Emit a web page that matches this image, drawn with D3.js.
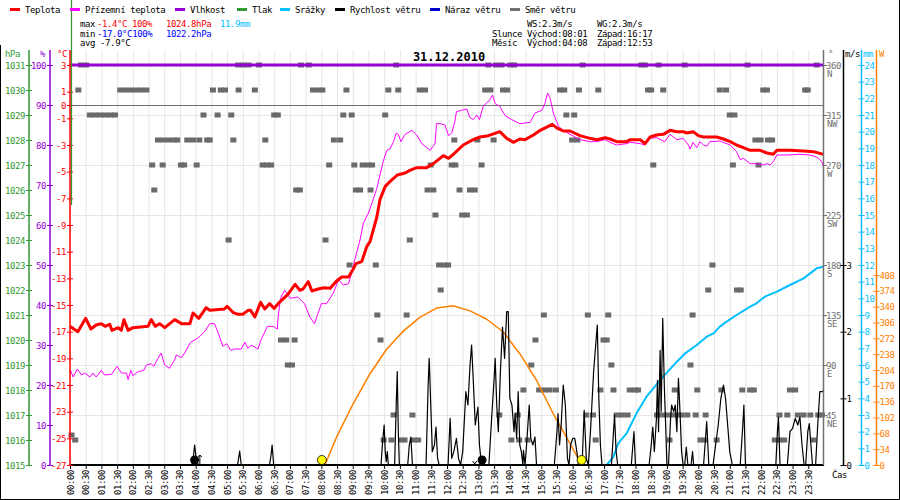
<!DOCTYPE html>
<html>
<head>
<meta charset="utf-8">
<script src="https://cdn.jsdelivr.net/npm/d3@7"></script>
<style>
body { margin: 0; background: #fff; }
text { font-family: "DejaVu Sans Mono", monospace; font-size: 9px; letter-spacing: -0.4px; }
</style>
</head>
<body>
<svg id="chart" width="900" height="500"></svg>
<script>
// ---- data (time in minutes from midnight) ----
const tempData = [[0,-16.6],[15,-17.0],[30,-16.0],[40,-16.8],[50,-16.5],[60,-16.4],[67,-16.6],[76,-16.45],[80,-16.9],[92,-16.7],[98,-16.9],[103,-16.1],[111,-16.9],[120,-16.7],[149,-16.6],[155,-16.1],[163,-16.6],[171,-16.4],[181,-16.7],[200,-16.1],[213,-16.4],[229,-16.4],[235,-15.6],[246,-16.0],[260,-15.2],[267,-15.4],[295,-15.3],[300,-15.1],[311,-15.55],[321,-15.7],[330,-15.7],[340,-15.4],[345,-15.4],[353,-15.9],[364,-14.8],[372,-15.3],[381,-14.9],[390,-15.25],[400,-14.8],[416,-14.2],[430,-13.45],[439,-13.9],[445,-13.8],[455,-13.25],[462,-13.95],[474,-13.8],[485,-13.7],[497,-13.75],[509,-13.2],[519,-12.9],[532,-12.9],[541,-12.3],[546,-11.9],[557,-11.75],[567,-10.6],[573,-10.25],[579,-9.4],[586,-8.4],[592,-7.1],[602,-6.1],[611,-5.75],[625,-5.25],[640,-5.1],[649,-4.9],[662,-4.7],[681,-4.7],[694,-4.4],[713,-3.8],[723,-4.0],[732,-3.7],[751,-3.0],[770,-2.6],[783,-2.4],[799,-2.3],[821,-2.0],[834,-2.5],[847,-2.8],[859,-2.55],[869,-2.6],[885,-2.25],[898,-1.9],[921,-1.45],[931,-1.75],[942,-1.95],[955,-1.95],[974,-2.3],[993,-2.5],[1006,-2.6],[1022,-2.45],[1031,-2.55],[1044,-2.75],[1063,-2.75],[1070,-2.6],[1089,-2.6],[1098,-2.9],[1108,-2.4],[1120,-2.25],[1133,-2.2],[1146,-1.9],[1159,-2.0],[1171,-2.0],[1178,-2.1],[1190,-2.0],[1200,-2.3],[1210,-2.4],[1235,-2.4],[1248,-2.55],[1261,-2.75],[1273,-3.0],[1286,-3.2],[1299,-3.4],[1318,-3.4],[1331,-3.6],[1343,-3.7],[1350,-3.4],[1375,-3.4],[1401,-3.45],[1420,-3.5],[1439,-3.7]];

const feelData = [[0,-20.1],[1,-19.9],[6,-20.4],[14,-19.8],[22,-20.25],[28,-20.1],[38,-20.4],[44,-20.1],[50,-20.4],[60,-19.9],[66,-20.25],[79,-20.2],[90,-19.6],[98,-20.1],[108,-20.1],[111,-20.6],[116,-19.9],[120,-20.3],[130,-20.0],[141,-19.9],[146,-19.5],[155,-19.4],[160,-19.6],[168,-19.0],[174,-18.6],[181,-19.5],[190,-19.75],[200,-19.1],[203,-18.75],[213,-18.95],[219,-18.6],[230,-17.8],[244,-17.5],[257,-17.0],[267,-16.4],[276,-16.4],[283,-17.1],[292,-18.1],[299,-17.9],[307,-18.4],[314,-18.3],[327,-18.3],[334,-17.8],[340,-18.25],[346,-18.0],[359,-18.3],[365,-17.6],[377,-16.6],[388,-16.6],[396,-16.8],[397,-16.1],[402,-14.5],[410,-13.9],[421,-14.5],[435,-14.4],[448,-14.9],[458,-15.9],[467,-16.4],[480,-14.9],[490,-14.9],[503,-14.1],[513,-13.1],[522,-13.5],[532,-13.4],[538,-12.6],[544,-11.6],[554,-10.1],[560,-8.9],[570,-8.1],[579,-7.1],[586,-6.25],[592,-5.25],[598,-4.25],[605,-3.4],[611,-3.3],[618,-2.75],[623,-2.1],[627,-2.2],[632,-2.75],[640,-2.2],[653,-1.9],[662,-2.25],[672,-2.9],[688,-3.4],[697,-2.9],[700,-1.4],[707,-1.4],[716,-1.5],[723,-2.3],[729,-2.1],[735,-1.25],[738,-0.5],[748,-0.4],[758,-0.3],[763,-0.9],[770,-1.1],[777,-0.75],[782,-1.1],[789,-0.1],[802,0.4],[807,0.75],[812,0.1],[821,-0.1],[831,-0.8],[844,-1.1],[859,-1.4],[879,-1.3],[888,-0.6],[901,-0.4],[907,0.1],[912,0.9],[917,0.5],[923,-0.6],[933,-1.6],[942,-1.9],[955,-2.2],[974,-2.6],[993,-2.75],[1006,-2.75],[1022,-2.6],[1031,-2.8],[1044,-3.0],[1063,-2.9],[1070,-2.8],[1089,-2.9],[1098,-3.0],[1108,-2.5],[1120,-2.45],[1136,-2.75],[1146,-2.2],[1159,-2.6],[1171,-2.5],[1181,-3.0],[1184,-3.3],[1190,-2.8],[1197,-3.2],[1203,-2.75],[1210,-3.0],[1216,-3.1],[1222,-2.75],[1241,-2.7],[1261,-3.0],[1273,-3.5],[1280,-4.1],[1286,-4.0],[1299,-4.4],[1311,-4.4],[1324,-4.5],[1331,-4.4],[1337,-4.5],[1343,-4.25],[1350,-3.75],[1369,-3.75],[1394,-3.7],[1413,-3.75],[1426,-3.9],[1436,-4.25],[1439,-4.7]];

const humData = [[0,100],[1440,100]];

const rainData = [[0,0],[1025,0],[1038,0.5],[1047,1.3],[1063,1.9],[1082,3.1],[1101,4.1],[1114,4.6],[1133,5.3],[1159,6.2],[1175,6.7],[1197,7.2],[1216,7.7],[1229,7.9],[1241,8.3],[1254,8.6],[1273,9.0],[1299,9.5],[1311,9.7],[1327,10.1],[1350,10.4],[1375,10.8],[1401,11.2],[1426,11.8],[1439,11.9]];

const solarData = [[481,0],[487,0],[509,60],[541,132],[573,196],[605,249],[637,288],[668,317],[700,337],[732,342],[764,331],[796,313],[828,285],[859,239],[891,182],[923,110],[955,46],[974,7],[977,0],[1440,0]];

const windData = [[0,0],[233,0],[236,0.15],[238,0.3],[241,0.1],[245,0],[320,0],[322,0.1],[324,0.21],[327,0],[381,0],[384,0.15],[386,0.3],[389,0],
  [594,0],[597,0.35],[600,0.6],[602,0.2],[604,0.05],[606,0.2],[608,0],[620,0],[623,0.9],[625,1.4],[627,0.5],[629,0],[645,0],[648,0.3],[651,0.42],[654,0],
  [680,0],[684,1.2],[686,1.6],[689,0.9],[692,0.2],[696,0.3],[699,0.57],[702,0.1],[705,0],[722,0],[726,0.7],[729,0.1],[733,0.2],[738,0.4],[742,0.1],[746,0],
  [750,0.2],[754,0.8],[756,1.1],[760,0.9],[764,1.5],[767,1.8],[770,1.3],[774,0.6],[779,0.87],[782,0.3],[786,0],
  [800,0],[806,0.8],[810,1.3],[812,1.6],[815,0.9],[818,0.5],[822,1.4],[826,2.07],[830,1.6],[834,2.3],[837,2.3],[840,1.0],[844,0.9],[848,0.5],[850,0.77],[853,0.4],[856,1.1],[859,0.3],[862,0.2],[865,0],[866,0.22],[869,0],[872,0.3],[877,0.9],[880,0.4],[884,0.3],[888,0.42],[891,0],
  [925,0],[930,0.5],[932,0.77],[935,0.3],[938,0.6],[942,1.2],[946,0.9],[950,0.1],[953,0],[956,0.3],[960,0.4],[964,0.4],[968,0.2],[971,0],
  [978,0],[982,0.82],[986,0.1],[990,0],[994,0.5],[1000,1.4],[1004,1.8],[1007,2.1],[1010,1.0],[1013,0.3],[1016,0],[1034,0],[1038,0.5],[1040,0.75],[1043,0.2],[1046,0],[1072,0],[1077,0.5],[1080,0],
  [1106,0],[1110,0.3],[1113,0.57],[1116,0.2],[1120,0.7],[1122,1.27],[1124,0.5],[1127,1.72],[1129,0.8],[1132,2.2],[1135,1.2],[1138,0.5],[1140,0],
  [1143,0],[1147,0.7],[1149,0.9],[1153,0.8],[1156,0.9],[1159,0.5],[1162,1.3],[1165,0.8],[1168,0.2],[1171,0],[1174,0],[1177,0.27],[1180,0],[1186,0],[1189,0.2],[1191,0],
  [1210,0],[1216,0.65],[1220,0],[1228,0],[1233,0.3],[1238,0.6],[1243,1.0],[1248,1.2],[1252,1.0],[1256,0.6],[1260,0.2],[1265,0],[1280,0],[1285,0.6],[1287,0.9],[1290,0],
  [1348,0],[1351,0.5],[1353,0.72],[1356,0],[1370,0],[1375,0.5],[1380,0.55],[1385,0.7],[1390,0.6],[1394,0.72],[1398,0.3],[1402,0],[1405,0],[1409,0.5],[1412,0.62],[1415,0.3],[1418,0],
  [1424,0],[1428,0.6],[1432,1.1],[1436,1.1],[1440,1.12]];

// wind direction samples: [degrees, [minutes...]]
const windDirRows = [
  [360, [20,30,320,330,340,360,440,455,622,798,813,823,840,847,978,1090,1097,1123,1173,1293,1425]],
  [337.5, [15,95,105,115,125,135,145,272,287,295,321,352,463,473,481,527,607,626,667,677,792,802,826,834,935,943,971,1008,1103,1109,1132,1240,1252,1323,1330,1403,1408]],
  [315, [37,47,57,67,77,85,254,281,307,389,396,521,537,601,947,962,1259,1268]],
  [292.5, [167,177,187,197,204,223,234,246,261,266,311,372,503,515,733,777,808,958,968,1308,1318,1332,1340]],
  [270, [156,176,211,217,241,367,375,383,494,542,558,568,576,688,728,735,785,1113,1265,1314]],
  [247.5, [160,431,438,545,553,573,682,693,743,763,772]],
  [225, [697,748,757]],
  [202.5, [302,487,648]],
  [180, [533,583,704,714,721,1226]],
  [157.5, [707,1218,1273,1280]],
  [135, [586,642,904,988,1027,1188]],
  [112.5, [402,412,428,592,888,1018,1024]],
  [90, [415,423,880,1033,1184]],
  [67.5, [865,895,905,915,927,1012,1037,1068,1078,1084,1154,1197,1243,1283,1298,1305,1374,1384]],
  [45, [617,653,819,854,985,998,1043,1053,1064,1120,1130,1140,1150,1160,1167,1178,1194,1213,1354,1369,1389,1400,1413,1428,1435]],
  [27, [2]],
  [22.5, [9,598,613,632,638,656,664,842,857,873,1003,1144,1203,1210,1234,1345,1355,1363,1419]]
];

const sunMarks = [481, 977];
const moonMarks = [238, 787];
const moonRise = 248, moonSet = 773;

const legendItems = [["Teplota","#ff0000",10],["Přízemní teplota","#ff00ff",70],["Vlhkost","#9400d3",175],["Tlak","#339933",237],
  ["Srážky","#00bfff",280],["Rychlost větru","#000000",335],["Náraz větru","#0000cd",430],["Směr větru","#707070",510]];

const hpaTicks = [1015,1016,1017,1018,1019,1020,1021,1022,1023,1024,1025,1026,1027,1028,1029,1030,1031];
const humTicks = [0,10,20,30,40,50,60,70,80,90,100];
const tempTicks = [3,1,0,-1,-3,-5,-7,-9,-11,-13,-15,-17,-19,-21,-23,-25,-27];
const dirTicks = [[360,"N"],[315,"NW"],[270,"W"],[225,"SW"],[180,"S"],[135,"SE"],[90,"E"],[45,"NE"]];
const wsTicks = [0,1,2,3];
const mmTicks = [0,1,2,3,4,5,6,7,8,9,10,11,12,13,14,15,16,17,18,19,20,21,22,23,24];
const wTicks = [0,34,68,102,136,170,204,238,272,306,340,374,408];
const timeTicks = d3.range(0, 1440, 30);

// ---- scales ----
const plotTop = 65, plotBottom = 465, plotLeft = 70, plotRight = 824;
const x = d3.scaleLinear().domain([0, 1440]).range([plotLeft, plotRight]);
const yT = d3.scaleLinear().domain([-27, 3]).range([plotBottom, plotTop]);
const yH = d3.scaleLinear().domain([0, 100]).range([plotBottom, plotTop]);
const yP = d3.scaleLinear().domain([1015, 1031]).range([plotBottom, plotTop]);
const yD = d3.scaleLinear().domain([0, 360]).range([plotBottom, plotTop]);
const yWS = d3.scaleLinear().domain([0, 3]).range([plotBottom, 265]);
const yMM = d3.scaleLinear().domain([0, 24]).range([plotBottom, plotTop]);
const yW = d3.scaleLinear().domain([0, 408]).range([plotBottom, 275]);

const svg = d3.select("#chart");
const fmt = m => d3.format("02")(Math.floor(m / 60)) + ":" + d3.format("02")(m % 60);

// grid
svg.append("g").selectAll("line").data(timeTicks).join("line")
  .attr("x1", d => x(d) + 0.5).attr("x2", d => x(d) + 0.5).attr("y1", 50).attr("y2", plotBottom)
  .attr("stroke", "#e6e6e6");
svg.append("g").selectAll("line").data(dirTicks.slice(1)).join("line")
  .attr("x1", plotLeft).attr("x2", plotRight).attr("y1", d => yD(d[0]) + 0.5).attr("y2", d => yD(d[0]) + 0.5)
  .attr("stroke", "#e6e6e6");
svg.append("line").attr("x1", plotLeft).attr("x2", plotRight).attr("y1", yT(0) + 0.5).attr("y2", yT(0) + 0.5)
  .attr("stroke", "#707070");

// wind direction squares
const dirPts = windDirRows.flatMap(([d, ts]) => ts.map(t => [t, d]));
svg.append("g").selectAll("rect").data(dirPts).join("rect")
  .attr("x", d => x(d[0]) - 2.5).attr("y", d => yD(d[1]) - 2.5).attr("width", 6).attr("height", 5)
  .attr("fill", "#6a6a6a");

function series(data, yScale, color, width) {
  const line = d3.line().x(d => x(d[0])).y(d => yScale(d[1]));
  svg.append("path").datum(data).attr("d", line).attr("fill", "none")
    .attr("stroke", color).attr("stroke-width", width).attr("stroke-linejoin", "round");
}

series(humData, yH, "#9400d3", 3);
series(solarData, yW, "#ff8000", 1.5);
series(rainData, yMM, "#00bfff", 2);
series(windData, yWS, "#000000", 1.2);
series(feelData, yT, "#ff00ff", 1);
series(tempData, yT, "#ff0000", 3);

// x axis
svg.append("line").attr("x1", plotLeft).attr("x2", plotRight).attr("y1", plotBottom).attr("y2", plotBottom)
  .attr("stroke", "#000").attr("stroke-width", 2);
svg.append("g").selectAll("line").data(timeTicks).join("line")
  .attr("x1", d => x(d) + 0.5).attr("x2", d => x(d) + 0.5).attr("y1", plotBottom).attr("y2", plotBottom + 4)
  .attr("stroke", "#000");
svg.append("g").selectAll("text").data(timeTicks).join("text")
  .attr("transform", d => `translate(${x(d) + 3.5},${plotBottom + 5}) rotate(-90)`)
  .attr("text-anchor", "end").text(d => fmt(d));
svg.append("text").attr("x", 832).attr("y", 478).text("Čas");

// sun / moon markers
svg.append("g").selectAll("circle").data(sunMarks).join("circle")
  .attr("cx", d => x(d)).attr("cy", plotBottom - 5).attr("r", 4.5)
  .attr("fill", "#ffff00").attr("stroke", "#000").attr("stroke-width", 0.8);
svg.append("g").selectAll("circle").data(moonMarks).join("circle")
  .attr("cx", d => x(d)).attr("cy", plotBottom - 5).attr("r", 4.5).attr("fill", "#000");
svg.append("path").attr("d", `M${x(moonRise)},${plotBottom} V${plotBottom - 10} M${x(moonRise) - 2},${plotBottom - 8} L${x(moonRise)},${plotBottom - 10} L${x(moonRise) + 2},${plotBottom - 8}`)
  .attr("stroke", "#000").attr("fill", "none");
svg.append("path").attr("d", `M${x(moonSet) - 2},${plotBottom - 4} L${x(moonSet)},${plotBottom - 1} L${x(moonSet) + 2},${plotBottom - 4}`)
  .attr("stroke", "#000").attr("fill", "none");

// vertical axes
function vAxis(xPos, y1, color, ticks, scale, labelFn, side) {
  const g = svg.append("g");
  g.append("line").attr("x1", xPos).attr("x2", xPos).attr("y1", y1).attr("y2", plotBottom)
    .attr("stroke", color).attr("stroke-width", 1.5);
  g.selectAll("line.t").data(ticks).join("line").attr("class", "t")
    .attr("x1", xPos - 3).attr("x2", xPos + 3)
    .attr("y1", d => scale(d) + 0.5).attr("y2", d => scale(d) + 0.5).attr("stroke", color);
  g.selectAll("text").data(ticks).join("text")
    .attr("x", side < 0 ? xPos - 4 : xPos + 3).attr("y", d => scale(d) + 3.5)
    .attr("text-anchor", side < 0 ? "end" : "start").attr("fill", color).text(labelFn);
}
vAxis(29, 50, "#339933", hpaTicks, yP, d => d, -1);
vAxis(50, 50, "#9400d3", humTicks, yH, d => d, -1);
vAxis(70, 50, "#ff0000", tempTicks, yT, d => d, -1);
svg.append("line").attr("x1", 71.5).attr("x2", 71.5).attr("y1", 0).attr("y2", 205)
  .attr("stroke", "#339933").attr("stroke-width", 1.2);

// direction axis
const dg = svg.append("g");
dg.append("line").attr("x1", 823.5).attr("x2", 823.5).attr("y1", 50).attr("y2", plotBottom)
  .attr("stroke", "#707070").attr("stroke-width", 1.5);
dg.selectAll("line.t").data(dirTicks).join("line").attr("class", "t")
  .attr("x1", 823).attr("x2", 827).attr("y1", d => yD(d[0]) + 0.5).attr("y2", d => yD(d[0]) + 0.5).attr("stroke", "#707070");
dg.selectAll("text.n").data(dirTicks).join("text").attr("class", "n")
  .attr("x", 826).attr("y", d => yD(d[0]) + 3.5).attr("fill", "#707070").text(d => d[0]);
dg.selectAll("text.c").data(dirTicks).join("text").attr("class", "c")
  .attr("x", 827).attr("y", d => yD(d[0]) + 12).attr("fill", "#707070").text(d => d[1]);

vAxis(843.5, 50, "#000000", wsTicks, yWS, d => d, 1);
vAxis(861.5, 50, "#00bfff", mmTicks, yMM, d => d, 1);
vAxis(876.5, 50, "#ff8000", wTicks, yW, d => d, 1);

// unit labels
[["hPa", 5, "#339933"], ["%", 40, "#9400d3"], ["°C", 57, "#ff0000"], ["°", 828, "#707070"],
 ["m/s", 845, "#000"], ["mm", 863, "#00bfff"], ["W", 879, "#ff8000"]].forEach(([t, xp, c]) => {
  svg.append("text").attr("x", xp).attr("y", 57).attr("fill", c).text(t);
});

// legend
const lg = svg.append("g");
legendItems.forEach(([name, color, xp]) => {
  lg.append("line").attr("x1", xp).attr("x2", xp + 10).attr("y1", 9.5).attr("y2", 9.5)
    .attr("stroke", color).attr("stroke-width", 3);
  lg.append("text").attr("x", xp + 15).attr("y", 12.5).text(name);
});

// header stats
const header = [
  [80, 27, "#000", "max"], [97, 27, "#ff0000", "-1.4°C"], [132, 27, "#ff0000", "100%"],
  [166, 27, "#ff0000", "1024.8hPa"], [220, 27, "#00bfff", "11.9mm"],
  [80, 37, "#000", "min"], [97, 37, "#0000ff", "-17.0°C100%"], [166, 37, "#0000ff", "1022.2hPa"],
  [80, 46, "#000", "avg -7.9°C"],
  [527, 27, "#000", "WS:2.3m/s"], [597, 27, "#000", "WG:2.3m/s"],
  [492, 37, "#000", "Slunce"], [527, 37, "#000", "Východ:08:01"], [597, 37, "#000", "Západ:16:17"],
  [492, 46, "#000", "Měsíc"], [527, 46, "#000", "Východ:04:08"], [597, 46, "#000", "Západ:12:53"]
];
header.forEach(([xp, yp, c, t]) => svg.append("text").attr("x", xp).attr("y", yp).attr("fill", c).text(t));

svg.append("text").attr("x", 449).attr("y", 61).attr("text-anchor", "middle")
  .style("font-size", "12px").style("font-weight", "bold").style("letter-spacing", "0px").text("31.12.2010");

// border
svg.append("path").attr("d", "M0.5,45 V499.5 H899.5 V0").attr("fill", "none").attr("stroke", "#000");
</script>
</body>
</html>
